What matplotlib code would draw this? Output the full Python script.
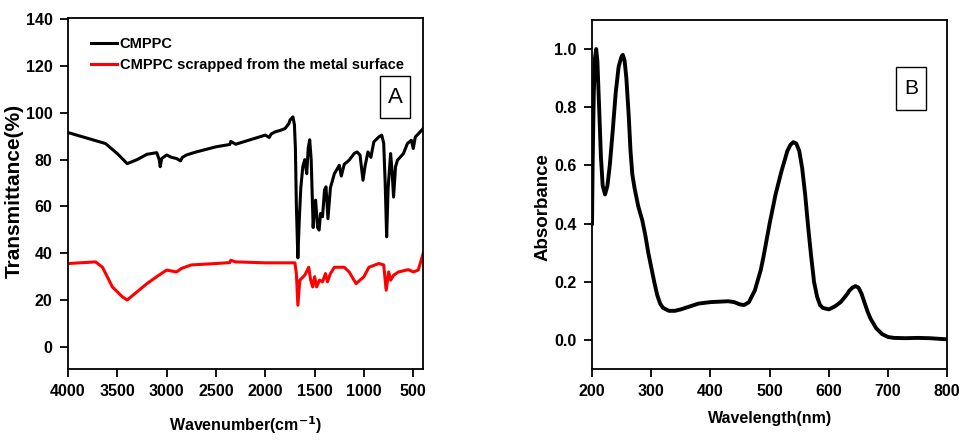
import matplotlib
matplotlib.use("Agg")
import matplotlib.pyplot as plt
from matplotlib.patches import Rectangle

plt.rcParams['font.family'] = ['Liberation Sans Narrow', 'Liberation Sans', 'DejaVu Sans']
plt.rcParams['font.weight'] = 'bold'

# Panel A: FTIR
wn_black = [4000, 3620, 3500, 3400, 3300, 3200, 3100, 3075, 3065, 3050, 3000, 2950, 2900, 2860, 2840, 2800,
            2700, 2500, 2360, 2350, 2300, 2000, 1960, 1940, 1900, 1850, 1800, 1760, 1750, 1720, 1705, 1695,
            1685, 1670, 1655, 1640, 1620, 1600, 1580, 1565, 1550, 1535, 1515, 1500, 1490, 1470, 1455, 1440,
            1420, 1400, 1385, 1365, 1340, 1300, 1250, 1230, 1200, 1150, 1100, 1070, 1040, 1010, 990, 960,
            930, 900, 850, 820, 800, 785, 770, 755, 730, 715, 700, 680, 660, 600, 560, 520, 500, 480, 450, 400]
tr_black = [91.6, 86.9, 82.6, 78.3, 80.0, 82.3, 83.0, 80.0, 77.0, 80.5, 82.0, 81.0, 80.5, 79.5, 81.0, 82.0,
            83.3, 85.5, 86.5, 87.8, 86.6, 90.5, 89.5, 91.0, 91.9, 92.5, 93.3, 95.5, 96.9, 98.3, 95.0, 85.0,
            60.0, 38.0, 55.0, 68.0, 77.0, 80.0, 74.0, 85.0, 88.5, 80.0, 51.0, 61.0, 62.7, 51.0, 49.9, 57.0,
            55.6, 67.0, 68.4, 54.8, 68.0, 74.0, 77.6, 73.0, 78.0, 79.8, 82.6, 83.3, 82.0, 71.2, 77.0, 83.3,
            81.0, 87.6, 89.7, 90.5, 87.0, 70.0, 47.0, 68.0, 82.6, 75.0, 64.0, 77.0, 79.8, 82.6, 86.9, 88.3, 84.8, 89.7, 91.0, 93.3]

wn_red = [4000, 3720, 3650, 3550, 3450, 3400, 3300, 3200, 3100, 3000, 2900, 2850, 2750, 2500, 2360, 2350,
          2300, 2000, 1700, 1685, 1670, 1650, 1600, 1560, 1540, 1520, 1500, 1480, 1450, 1420, 1390, 1370,
          1340, 1300, 1200, 1150, 1080, 1000, 950, 850, 800, 775, 750, 730, 700, 650, 550, 500, 450, 400]
tr_red = [35.6, 36.3, 34.0, 25.6, 21.4, 20.0, 23.5, 27.0, 30.0, 32.8, 32.0, 33.5, 35.0, 35.6, 36.0, 37.0,
          36.3, 35.9, 35.9, 31.3, 17.8, 28.5, 30.6, 34.0, 28.5, 25.6, 30.0, 25.6, 28.5, 27.8, 31.3, 27.8,
          31.3, 34.0, 34.0, 32.0, 27.0, 30.0, 34.0, 35.6, 35.0, 24.2, 32.0, 28.5, 30.6, 32.0, 33.0, 32.0, 32.8, 39.9]

# Panel B: UV-Vis
wl = [200, 201, 203, 205, 207, 209, 212, 215, 218, 222, 226, 230, 235, 240, 245, 250, 252, 255, 258, 262,
      265, 268, 272, 278, 285, 290, 295, 300, 305, 310, 315, 320, 330, 340, 350, 365, 380, 400, 420, 430,
      440, 450, 457, 465, 475, 485, 490, 500, 510, 520, 530, 535, 540, 545, 550, 555, 560, 565, 570, 575,
      580, 585, 590, 600, 610, 620, 630, 635, 640, 645, 650, 655, 660, 665, 670, 680, 690, 700, 710, 730,
      750, 770, 800]
ab = [0.40, 0.60, 0.85, 0.97, 1.00, 0.96, 0.80, 0.63, 0.53, 0.50, 0.53, 0.60, 0.72, 0.85, 0.94, 0.975, 0.98, 0.96, 0.90, 0.77,
      0.65, 0.57, 0.52, 0.46, 0.41, 0.36, 0.30, 0.25, 0.20, 0.155, 0.125, 0.11, 0.10, 0.10, 0.105, 0.115, 0.125, 0.13, 0.132, 0.133,
      0.13, 0.122, 0.12, 0.13, 0.17, 0.24, 0.29, 0.40, 0.50, 0.58, 0.65, 0.67, 0.68, 0.675, 0.65, 0.59, 0.50, 0.39, 0.29, 0.20,
      0.15, 0.12, 0.11, 0.105, 0.115, 0.13, 0.155, 0.17, 0.18, 0.185, 0.18, 0.16, 0.13, 0.10, 0.075, 0.04, 0.02, 0.01, 0.007, 0.006,
      0.007, 0.006, 0.002]

xticks_A = [4000, 3500, 3000, 2500, 2000, 1500, 1000, 500]
yticks_A = [0, 20, 40, 60, 80, 100, 120, 140]
xticks_B = [200, 300, 400, 500, 600, 700, 800]
yticks_B = [0.0, 0.2, 0.4, 0.6, 0.8, 1.0]

fig = plt.figure(figsize=(9.6, 4.43), dpi=100)
axA = fig.add_axes([0.0708, 0.167, 0.370, 0.792])
axB = fig.add_axes([0.6167, 0.167, 0.370, 0.788])

axA.plot(wn_black, tr_black, color='black', lw=2.2, label='CMPPC')
axA.plot(wn_red, tr_red, color='#ff0000', lw=2.2, label='CMPPC scrapped from the metal surface')
axA.set_xlim(4000, 400)
axA.set_ylim(-9.5, 140.5)
axA.set_xticks(xticks_A)
axA.set_yticks(yticks_A)
axA.set_xlabel('Wavenumber(cm$^{\\mathbf{-1}}$)', fontsize=11.5, fontweight='bold')
axA.xaxis.set_label_coords(0.5, -0.128)
axA.set_ylabel('Transmittance(%)', fontsize=15, fontweight='bold')
axA.yaxis.set_label_coords(-0.125, 0.507)
leg = axA.legend(loc='upper left', bbox_to_anchor=(0.035, 0.975), frameon=False, fontsize=10.5,
                 handlelength=1.8, handletextpad=0.2, labelspacing=0.45, borderaxespad=0.3)
for t in leg.get_texts():
    t.set_fontweight('bold')

axA.add_patch(Rectangle((0.879, 0.715), 0.084, 0.12, transform=axA.transAxes,
                        fc='white', ec='black', lw=1.0, zorder=5))
axA.text(0.921, 0.775, 'A', transform=axA.transAxes, ha='center', va='center', fontsize=16,
         fontweight='normal', family=['Liberation Sans', 'DejaVu Sans'], zorder=6)

axB.plot(wl, ab, color='black', lw=2.8)
axB.set_xlim(200, 800)
axB.set_ylim(-0.1, 1.1)
axB.set_xticks(xticks_B)
axB.set_yticks(yticks_B)
axB.set_yticklabels(['%.1f' % v for v in yticks_B])
axB.set_xlabel('Wavelength(nm)', fontsize=11.5, fontweight='bold')
axB.xaxis.set_label_coords(0.5, -0.12)
axB.set_ylabel('Absorbance', fontsize=13.5, fontweight='bold')
axB.yaxis.set_label_coords(-0.113, 0.463)
axB.add_patch(Rectangle((0.856, 0.742), 0.085, 0.123, transform=axB.transAxes,
                        fc='white', ec='black', lw=1.0, zorder=5))
axB.text(0.8985, 0.803, 'B', transform=axB.transAxes, ha='center', va='center', fontsize=15,
         fontweight='normal', family=['Liberation Sans', 'DejaVu Sans'], zorder=6)

for ax in (axA, axB):
    for s in ax.spines.values():
        s.set_linewidth(1.3)
    ax.tick_params(direction='out', length=6, width=1.3, labelsize=11.5, pad=5)
    for lab in ax.get_xticklabels() + ax.get_yticklabels():
        lab.set_fontweight('bold')

fig.savefig('out.png', dpi=100)
